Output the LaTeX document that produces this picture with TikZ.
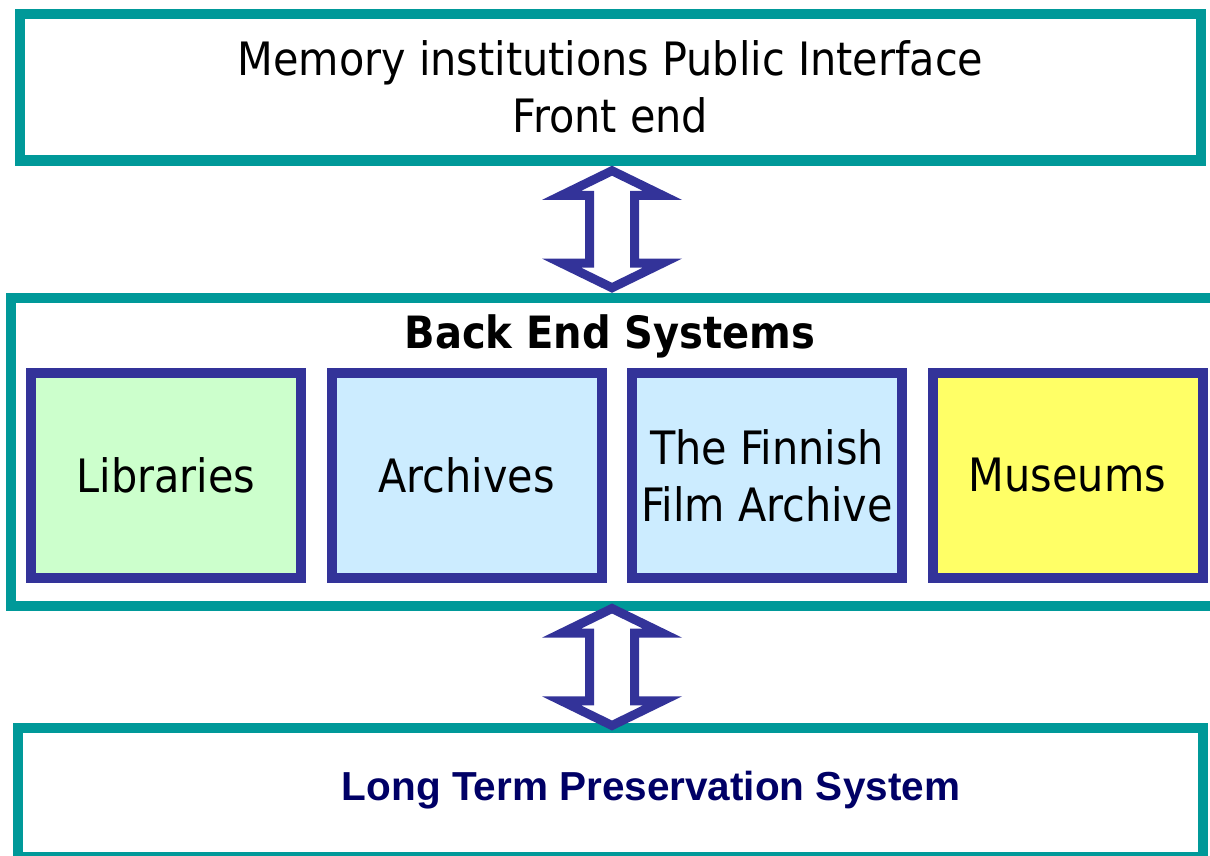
\documentclass[tikz,border=0pt]{standalone}
\usepackage{fontspec}
\setmainfont{DejaVu Sans Condensed}
\newfontfamily\ltpfont{Liberation Sans}
\usetikzlibrary{positioning,calc,shapes.arrows}

\definecolor{tealline}{HTML}{009999}
\definecolor{boxline}{HTML}{333399}
\definecolor{libgreen}{HTML}{CCFFCC}
\definecolor{archblue}{HTML}{CCECFF}
\definecolor{musyellow}{HTML}{FFFF66}
\definecolor{ltpnavy}{HTML}{000066}

\begin{document}
\begin{tikzpicture}[x=1pt,y=-1pt,
  layer/.style={rectangle,draw=tealline,line width=10pt,fill=white,inner sep=0pt},
  inst/.style={rectangle,draw=boxline,line width=10pt,minimum width=270pt,minimum height=205pt,
    inner sep=0pt,align=center,font=\fontsize{46}{57}\selectfont},
  dblarrow/.style={double arrow,draw=boxline,fill=white,line width=9pt,rotate=90,
    double arrow head extend=28pt,double arrow tip angle=128,minimum height=117pt,
    inner xsep=0pt,inner ysep=18pt,text height=0pt,text depth=0pt}]
\useasboundingbox (0,0) rectangle (1210,856);
\node[layer,minimum width=1181pt,minimum height=146.5pt,align=center,
  font=\fontsize{46}{57}\selectfont] (front) at (610.5,87.25)
  {Memory institutions Public Interface\\Front end};
\node[layer,minimum width=1205pt,minimum height=308pt] (back) at (613.5,452) {};
\node[anchor=base,font=\fontsize{44.5}{50}\selectfont\bfseries] (backlbl) at (610,348) {Back End Systems};
\node[inst,fill=libgreen] (lib) at (166,475.5) {Libraries};
\node[inst,fill=archblue,right=20.5pt of lib] (arch) {Archives};
\node[inst,fill=archblue,right=20.5pt of arch] (film) {The Finnish\\Film Archive};
\node[inst,fill=musyellow,right=20.5pt of film] (mus) {Museums};
\node[layer,minimum width=1185pt,minimum height=129pt] (ltp) at (610.5,792.5) {};
\node[anchor=base,text=ltpnavy,font=\ltpfont\fontsize{40.5}{48}\selectfont\bfseries] (ltplbl) at (651,800)
  {Long Term Preservation System};
% arrows between the layers
\node[dblarrow] (arr1) at ($(front.south)!0.5!(back.north)$) {};
\node[dblarrow] (arr2) at ($(back.south)!0.5!(ltp.north)$) {};
\end{tikzpicture}
\end{document}
